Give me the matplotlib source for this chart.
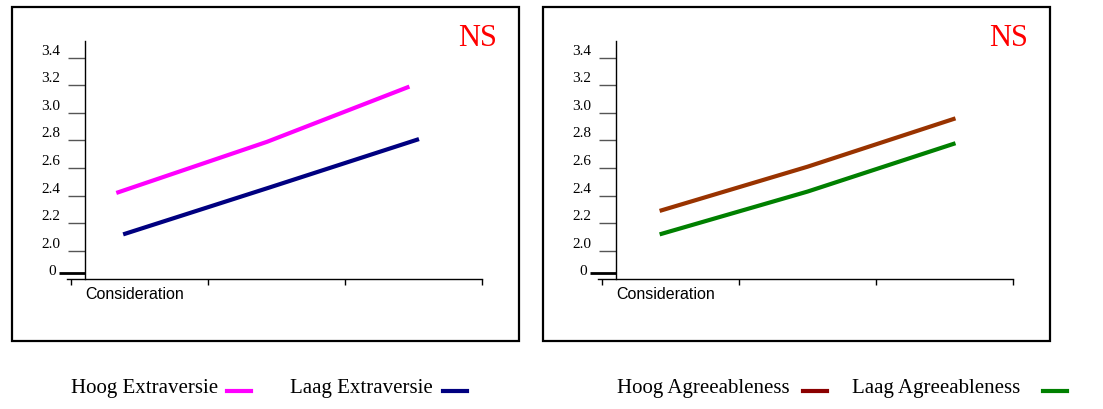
import matplotlib.pyplot as plt
from matplotlib.lines import Line2D
from matplotlib.patches import Rectangle
from matplotlib.transforms import ScaledTranslation, blended_transform_factory

# Simple slopes: three points along the moderator axis per group
x_hoog_extra = [0.33, 1.43, 2.47]
y_hoog_extra = [2.42, 2.79, 3.19]
x_laag_extra = [0.38, 1.45, 2.54]
y_laag_extra = [2.12, 2.46, 2.81]

x_hoog_agree = [0.42, 1.50, 2.58]
y_hoog_agree = [2.29, 2.61, 2.96]
x_laag_agree = [0.42, 1.50, 2.58]
y_laag_agree = [2.12, 2.43, 2.78]

ytick_values = [2.0, 2.2, 2.4, 2.6, 2.8, 3.0, 3.2, 3.4]
ytick_labels = ['2.0', '2.2', '2.4', '2.6', '2.8', '3.0', '3.2', '3.4']
BREAK_POS = 1.84   # where the "0" of the broken axis sits

W, H = 1103, 409
fig = plt.figure(figsize=(W / 100, H / 100), dpi=100)
fig.patch.set_facecolor('white')

serif = 'Liberation Serif'
sans = 'Liberation Sans'


def fx(px):
    return px / W


def fy(py):
    return 1 - py / H


def panel(box_left, axis_left, series, legend):
    # outer frame
    fig.add_artist(Rectangle((fx(box_left), fy(341)), fx(507), 334 / H,
                             transform=fig.transFigure, fill=False,
                             edgecolor='black', linewidth=1.6))

    ax = fig.add_axes([fx(axis_left), fy(279), fx(415), 238 / H])
    ax.set_xlim(-0.03, 3)
    ax.set_ylim(1.797, 3.52)
    ax.patch.set_visible(False)

    for x, y, c in series:
        ax.plot(x, y, color=c, linewidth=3, solid_capstyle='butt')

    for s in ['top', 'right']:
        ax.spines[s].set_visible(False)
    ax.spines['left'].set_position(('data', 0.102))
    ax.spines['left'].set_linewidth(1.0)
    ax.spines['bottom'].set_linewidth(1.0)

    ax.set_xticks([0, 1, 2, 3])
    ax.set_xticklabels([])
    ax.tick_params(axis='x', direction='out', length=4, width=1, color='black')

    ax.set_yticks([BREAK_POS] + ytick_values)
    ax.set_yticklabels(['0'] + ytick_labels, fontfamily=serif, fontsize=11)
    ax.tick_params(axis='y', direction='out', length=12, width=1,
                   color='#555555', pad=6)
    zero_tick = ax.yaxis.get_major_ticks()[0]
    zero_tick.tick1line.set_markersize(19)
    zero_tick.tick1line.set_markeredgewidth(2)
    zero_tick.tick1line.set_markeredgecolor('black')
    labels = ax.get_yticklabels()
    labels[0].set_transform(labels[0].get_transform()
                            + ScaledTranslation(-0.04, 0.03, fig.dpi_scale_trans))
    for lbl in labels[1:]:
        lbl.set_transform(lbl.get_transform()
                          + ScaledTranslation(0, 0.08, fig.dpi_scale_trans))

    tr = blended_transform_factory(ax.transData, ax.transAxes)
    ax.text(0.102, -0.065, 'Consideration', transform=tr, fontfamily=sans,
            fontsize=11.5, ha='left', va='center')

    ax.text(fx(box_left + 485), fy(38), 'NS', transform=fig.transFigure,
            fontfamily=serif, fontsize=22, color='red', ha='right', va='center')

    # legend row under the frame
    for label, text_x, line_x0, line_x1, c in legend:
        fig.text(fx(text_x), fy(389), label, fontfamily=serif, fontsize=15,
                 ha='left', va='center')
        fig.add_artist(Line2D([fx(line_x0), fx(line_x1)], [fy(391), fy(391)],
                              transform=fig.transFigure, color=c, linewidth=3))
    return ax


panel(12, 67,
      [(x_hoog_extra, y_hoog_extra, '#ff00ff'),
       (x_laag_extra, y_laag_extra, '#000080')],
      [('Hoog Extraversie', 71, 227, 251, '#ff00ff'),
       ('Laag Extraversie', 290, 443, 467, '#000080')])

panel(543, 598,
      [(x_hoog_agree, y_hoog_agree, '#993300'),
       (x_laag_agree, y_laag_agree, '#008000')],
      [('Hoog Agreeableness', 617, 803, 827, '#8b0000'),
       ('Laag Agreeableness', 852, 1043, 1067, '#008000')])

fig.savefig('out.png', dpi=100, facecolor='white')
